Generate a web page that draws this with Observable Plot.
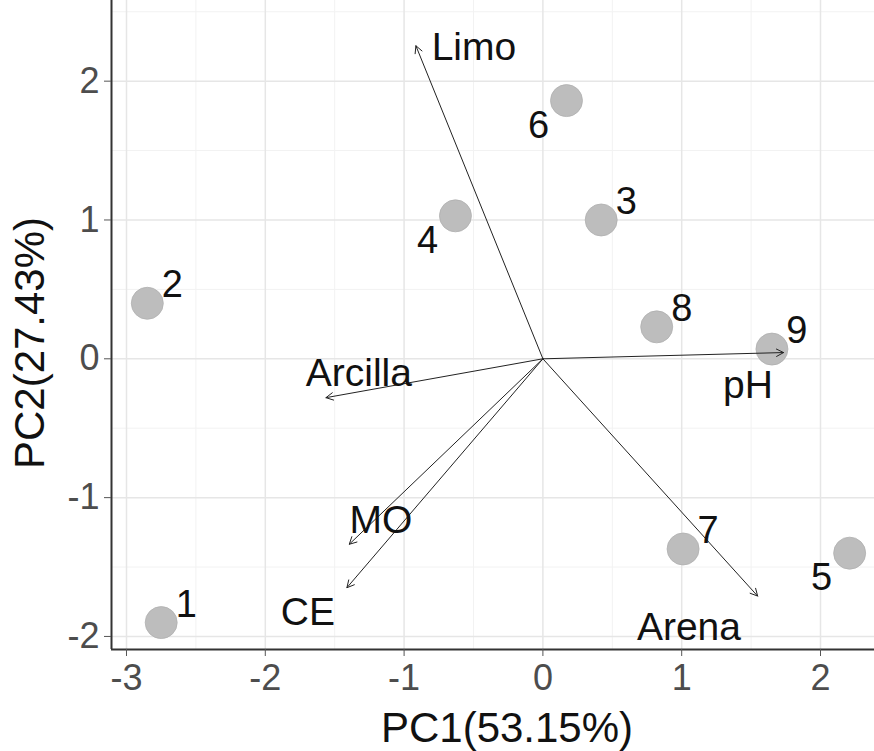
<!DOCTYPE html>
<html><head><meta charset="utf-8">
<script src="https://cdn.jsdelivr.net/npm/d3@7"></script>
<script src="https://cdn.jsdelivr.net/npm/@observablehq/plot@0.6"></script>
<style>body{margin:0;background:#fff}#chart svg{display:block}</style>
</head><body><div id="chart"></div>
<script>
// Sample scores
const sampleIds = ["1","2","3","4","5","6","7","8","9"];
const pc1 = [-2.75,-2.85,0.42,-0.63,2.21,0.17,1.01,0.82,1.65];
const pc2 = [-1.90,0.40,1.00,1.03,-1.40,1.86,-1.37,0.23,0.07];
// Variable loadings (arrow tips)
const variables = ["Limo","pH","Arcilla","MO","CE","Arena"];
const loadX = [-0.915,1.734,-1.563,-1.395,-1.412,1.547];
const loadY = [2.255,0.045,-0.28,-1.336,-1.649,-1.709];
const varLabelX = [-0.497,1.477,-1.326,-1.167,-1.693,1.052];
const varLabelY = [2.243,-0.195,-0.108,-1.168,-1.831,-1.939];
const leftLabelled = ["4","5","6"];
// Axes
const xTicks = [-3,-2,-1,0,1,2];
const yTicks = [-2,-1,0,1,2];
const xMinor = [-2.5,-1.5,-0.5,0.5,1.5];
const yMinor = [-1.5,-0.5,0.5,1.5,2.5];
const xDomain = [-3.108, 2.389];
const yDomain = [-2.094, 2.581];
const xTitle = "PC1(53.15%)";
const yTitle = "PC2(27.43%)";

const samples = sampleIds.map((id,i)=>({id, x:pc1[i], y:pc2[i]}));
const vars = variables.map((v,i)=>({v, x:loadX[i], y:loadY[i], lx:varLabelX[i], ly:varLabelY[i]}));
const font = "Liberation Sans, Arial, sans-serif";
const fmt = d => String(d);

const chart = Plot.plot({
  width: 874, height: 751,
  marginLeft: 111, marginBottom: 102, marginTop: 0, marginRight: 0,
  style: {fontFamily: font, background: "#fff"},
  x: {domain: xDomain, ticks: xTicks},
  y: {domain: yDomain, ticks: yTicks},
  marks: [
    Plot.gridX(xMinor, {stroke: "#f2f2f2", strokeOpacity: 1, strokeWidth: 1}),
    Plot.gridY(yMinor, {stroke: "#f2f2f2", strokeOpacity: 1, strokeWidth: 1}),
    Plot.gridX(xTicks, {stroke: "#e6e6e6", strokeOpacity: 1, strokeWidth: 1.5}),
    Plot.gridY(yTicks, {stroke: "#e6e6e6", strokeOpacity: 1, strokeWidth: 1.5}),
    Plot.ruleX([xDomain[0]], {stroke: "#333", strokeWidth: 2}),
    Plot.ruleY([yDomain[0]], {stroke: "#333", strokeWidth: 2}),
    Plot.axisX(xTicks, {tickSize: 7, tickPadding: 8, fontSize: 36, stroke: "#555", fill: "#4d4d4d", label: null, tickFormat: fmt}),
    Plot.axisY(yTicks, {tickSize: 7, tickPadding: 5, fontSize: 36, stroke: "#555", fill: "#4d4d4d", label: null, tickFormat: fmt}),
    Plot.dot(samples, {x: "x", y: "y", r: 16, fill: "#bdbdbd", stroke: "#b0b0b0", strokeWidth: 0.8}),
    Plot.arrow(vars, {x1: () => 0, y1: () => 0, x2: "x", y2: "y", stroke: "#222", strokeWidth: 1, headLength: 12, headAngle: 55, insetStart: 0, insetEnd: 0}),
    Plot.text(samples.filter(d => !leftLabelled.includes(d.id)), {x: "x", y: "y", text: "id", dx: 25, dy: -18, fontSize: 38, fill: "#111"}),
    Plot.text(samples.filter(d => leftLabelled.includes(d.id)), {x: "x", y: "y", text: "id", dx: -28, dy: 25, fontSize: 38, fill: "#111"}),
    Plot.text(vars, {x: "lx", y: "ly", text: "v", fontSize: 39, fill: "#111"}),
    Plot.text([xTitle], {frameAnchor: "bottom", textAnchor: "middle", lineAnchor: "middle", text: d => d, dy: 79, dx: 14, fontSize: 42, fill: "#111"}),
    Plot.text([yTitle], {frameAnchor: "left", textAnchor: "middle", lineAnchor: "middle", text: d => d, rotate: -90, dx: -81, dy: 18, fontSize: 42, fill: "#111"})
  ]
});
document.getElementById("chart").appendChild(chart);
</script>
</body></html>
